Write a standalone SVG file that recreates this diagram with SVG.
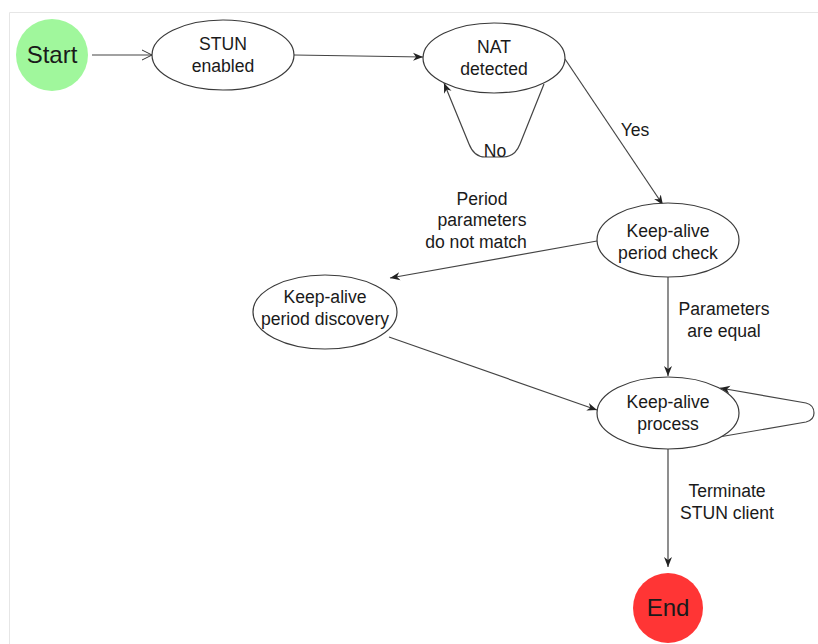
<svg xmlns="http://www.w3.org/2000/svg" width="818" height="644" viewBox="0 0 818 644">
  <defs>
    <marker id="arrow" viewBox="0 0 10 10" refX="10" refY="5" markerWidth="10" markerHeight="10" markerUnits="userSpaceOnUse" orient="auto">
      <path d="M0,1 L10,5 L0,9 L3,5 Z" fill="#222"/>
    </marker>
    <marker id="open" viewBox="0 0 12 12" refX="11" refY="6" markerWidth="12" markerHeight="12" markerUnits="userSpaceOnUse" orient="auto">
      <path d="M1,1 L11,6 L1,11" fill="none" stroke="#333" stroke-width="1"/>
    </marker>
  </defs>
  <style>
    text { font-family: "Liberation Sans", Arial, Helvetica, sans-serif; fill: #1a1a1a; text-anchor: middle; }
    .lbl { font-size: 17.6px; }
    .big { font-size: 24px; }
    .state { fill: #ffffff; stroke: #3a3a3a; stroke-width: 1.2; }
    .edge { fill: none; stroke: #444; stroke-width: 1.2; }
  </style>

  <rect width="818" height="644" fill="#ffffff"/>
  <!-- canvas frame -->
  <path d="M9.5,644 V12.5 H818" fill="none" stroke="#e6e6e6" stroke-width="1"/>

  <g id="connectors">
    <path class="edge" d="M92,55 L152,55" marker-end="url(#open)"/>
    <path class="edge" d="M294,55 L423,57" marker-end="url(#arrow)"/>
    <path class="edge" d="M544,84 L520,144 Q515,157 503,157 L485,157 Q474,157 469,144 L444,83" marker-end="url(#arrow)"/>
    <path class="edge" d="M565,59 L663,205" marker-end="url(#arrow)"/>
    <path class="edge" d="M597,241 L390,278" marker-end="url(#arrow)"/>
    <path class="edge" d="M668,277 L668,376" marker-end="url(#arrow)"/>
    <path class="edge" d="M389,337 L597,410" marker-end="url(#arrow)"/>
    <path class="edge" d="M719,437 L806,422 Q814,420 814,413 Q814,405 806,403 L720,388" marker-end="url(#arrow)"/>
    <path class="edge" d="M668,449 L668,567" marker-end="url(#arrow)"/>
  </g>

  <g id="edge-labels">
    <text class="lbl" x="495" y="157">No</text>
    <text class="lbl" x="635" y="136">Yes</text>
    <text class="lbl" x="482" y="205">Period</text>
    <text class="lbl" x="482" y="226">parameters</text>
    <text class="lbl" x="476" y="248">do not match</text>
    <text class="lbl" x="724" y="315">Parameters</text>
    <text class="lbl" x="724" y="337">are equal</text>
    <text class="lbl" x="727" y="497">Terminate</text>
    <text class="lbl" x="727" y="519">STUN client</text>
  </g>

  <g id="start">
    <circle cx="52" cy="55" r="36" fill="#a0f79c"/>
    <text class="big" x="52" y="63">Start</text>
  </g>

  <g id="stun-enabled">
    <ellipse class="state" cx="223" cy="55" rx="71" ry="35"/>
    <text class="lbl" x="223" y="50">STUN</text>
    <text class="lbl" x="223" y="72">enabled</text>
  </g>

  <g id="nat-detected">
    <ellipse class="state" cx="494" cy="58" rx="71" ry="35"/>
    <text class="lbl" x="494" y="53">NAT</text>
    <text class="lbl" x="494" y="75">detected</text>
  </g>

  <g id="period-check">
    <ellipse class="state" cx="668" cy="240" rx="71" ry="37"/>
    <text class="lbl" x="668" y="237">Keep-alive</text>
    <text class="lbl" x="668" y="259">period check</text>
  </g>

  <g id="period-discovery">
    <ellipse class="state" cx="325" cy="312" rx="72" ry="37"/>
    <text class="lbl" x="325" y="303">Keep-alive</text>
    <text class="lbl" x="325" y="325">period discovery</text>
  </g>

  <g id="keepalive-process">
    <ellipse class="state" cx="668" cy="413" rx="71" ry="36"/>
    <text class="lbl" x="668" y="408">Keep-alive</text>
    <text class="lbl" x="668" y="430">process</text>
  </g>

  <g id="end">
    <circle cx="668" cy="608" r="35" fill="#ff3535"/>
    <text class="big" x="668" y="616">End</text>
  </g>
</svg>
